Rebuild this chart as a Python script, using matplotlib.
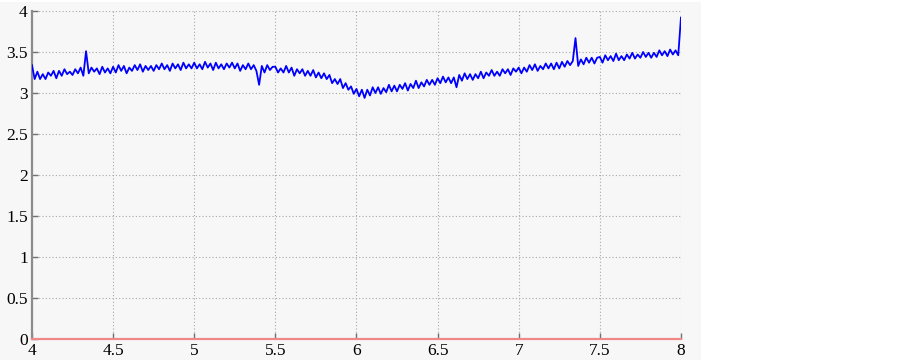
import numpy as np
import matplotlib
matplotlib.use("Agg")
import matplotlib.pyplot as plt
from matplotlib.patches import Rectangle

# signal values, x from 4 to 8 in steps of 1/60
signal = [
    3.34, 3.17, 3.26, 3.17, 3.23, 3.17, 3.25, 3.21, 3.27, 3.18, 3.27, 3.21, 3.29, 3.23, 3.26,
    3.22, 3.29, 3.24, 3.31, 3.21, 3.51, 3.24, 3.31, 3.26, 3.30, 3.23, 3.32, 3.25, 3.30, 3.24,
    3.32, 3.25, 3.34, 3.27, 3.33, 3.24, 3.31, 3.27, 3.34, 3.28, 3.35, 3.26, 3.33, 3.28, 3.33,
    3.27, 3.34, 3.29, 3.36, 3.29, 3.34, 3.27, 3.36, 3.30, 3.35, 3.28, 3.37, 3.30, 3.35, 3.30,
    3.37, 3.30, 3.35, 3.29, 3.38, 3.31, 3.36, 3.28, 3.37, 3.30, 3.35, 3.29, 3.36, 3.31, 3.37,
    3.30, 3.36, 3.27, 3.34, 3.29, 3.36, 3.29, 3.34, 3.27, 3.10, 3.33, 3.25, 3.34, 3.28, 3.32,
    3.32, 3.25, 3.30, 3.25, 3.33, 3.25, 3.31, 3.21, 3.29, 3.24, 3.29, 3.21, 3.27, 3.21, 3.28,
    3.19, 3.25, 3.18, 3.24, 3.17, 3.22, 3.12, 3.17, 3.11, 3.17, 3.06, 3.12, 3.04, 3.08, 2.99,
    3.05, 2.96, 3.04, 2.94, 3.04, 2.97, 3.07, 3.00, 3.07, 2.99, 3.06, 3.01, 3.10, 3.02, 3.09,
    3.02, 3.10, 3.05, 3.12, 3.03, 3.11, 3.06, 3.15, 3.06, 3.13, 3.08, 3.16, 3.10, 3.16, 3.10,
    3.18, 3.12, 3.20, 3.13, 3.19, 3.12, 3.19, 3.07, 3.22, 3.15, 3.24, 3.17, 3.23, 3.16, 3.23,
    3.18, 3.26, 3.18, 3.25, 3.21, 3.28, 3.21, 3.26, 3.21, 3.29, 3.24, 3.29, 3.22, 3.30, 3.26,
    3.31, 3.24, 3.31, 3.26, 3.34, 3.28, 3.35, 3.27, 3.33, 3.29, 3.36, 3.30, 3.36, 3.29, 3.37,
    3.30, 3.38, 3.32, 3.39, 3.34, 3.39, 3.67, 3.33, 3.41, 3.35, 3.43, 3.37, 3.43, 3.36, 3.43,
    3.44, 3.37, 3.46, 3.40, 3.45, 3.39, 3.48, 3.40, 3.45, 3.40, 3.47, 3.42, 3.49, 3.42, 3.47,
    3.43, 3.50, 3.44, 3.49, 3.43, 3.49, 3.44, 3.52, 3.46, 3.51, 3.45, 3.53, 3.47, 3.52, 3.46,
    3.92,
]
x_start, x_end = 4, 8
baseline = [0, 0]

xticks = [4, 4.5, 5, 5.5, 6, 6.5, 7, 7.5, 8]
xticklabels = ["4", "4.5", "5", "5.5", "6", "6.5", "7", "7.5", "8"]
yticks = [0, 0.5, 1, 1.5, 2, 2.5, 3, 3.5, 4]
yticklabels = ["0", "0.5", "1", "1.5", "2", "2.5", "3", "3.5", "4"]

bg = "#f7f7f7"
plt.rcParams['font.family'] = ['Liberation Serif', 'DejaVu Serif']

fig = plt.figure(figsize=(9.03, 3.62), dpi=100)
fig.patch.set_facecolor("white")
fig.patches.append(Rectangle((0, 0.0055), 0.776, 0.989, transform=fig.transFigure,
                             facecolor=bg, edgecolor="none", zorder=-10))

ax = fig.add_axes([0.0354, 0.0635, 0.7187, 0.9061])
ax.set_facecolor(bg)

x = np.linspace(x_start, x_end, len(signal))
ax.plot(x, signal, color="#0000ff", lw=1.3, zorder=3)
ax.plot([x_start, x_end], baseline, color="#f08888", lw=1.6, zorder=4, clip_on=False)

ax.set_xlim(x_start, x_end)
ax.set_ylim(0, 4)
ax.set_xticks(xticks)
ax.set_xticklabels(xticklabels)
ax.set_yticks(yticks)
ax.set_yticklabels(yticklabels)

ax.grid(True, color="#a8a8a8", linestyle=(0, (1, 2)), lw=0.8)
for s in ["top", "right", "bottom"]:
    ax.spines[s].set_visible(False)
ax.spines["left"].set_color("#8c8c8c")
ax.spines["left"].set_linewidth(1.6)

ax.tick_params(direction="in", length=4, width=1, colors="#707070", labelsize=12.5, pad=3)
ax.tick_params(labelcolor="black")

fig.savefig("out.png", dpi=100, facecolor=fig.get_facecolor())
